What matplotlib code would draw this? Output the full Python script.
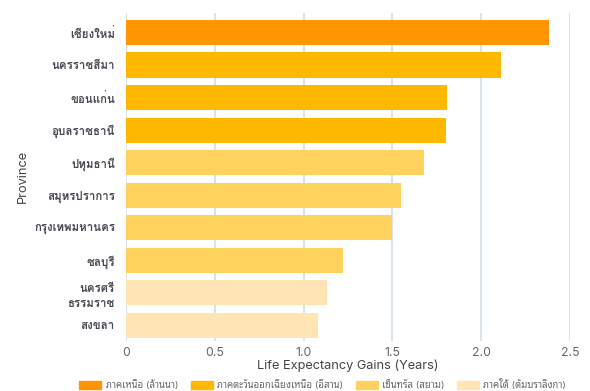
import matplotlib
matplotlib.use("Agg")
import matplotlib.pyplot as plt
from matplotlib.patches import Patch
from matplotlib import font_manager

# ข้อมูลจังหวัด (อ่านค่าจากภาพ)
provinces = ["เชียงใหม่", "นครราชสีมา", "ขอนแก่น", "อุบลราชธานี", "ปทุมธานี",
             "สมุทรปราการ", "กรุงเทพมหานคร", "ชลบุรี", "นครศรี\nธรรมราช", "สงขลา"]
gains = [2.38, 2.11, 1.81, 1.80, 1.68, 1.55, 1.50, 1.22, 1.13, 1.08]
regions = [0, 1, 1, 1, 2, 2, 2, 2, 3, 3]
region_names = ["ภาคเหนือ (ล้านนา)", "ภาคตะวันออกเฉียงเหนือ (อีสาน)",
                "เซ็นทรัล (สยาม)", "ภาคใต้ (ตัมบราลิงกา)"]
region_colors = ["#ff9500", "#ffb800", "#ffd25e", "#ffe5b4"]
xticks = [0, 0.5, 1.0, 1.5, 2.0, 2.5]
xtick_labels = ["0", "0.5", "1.0", "1.5", "2.0", "2.5"]

# ฟอนต์ไทยแบบมีหัวที่มีตัวหนา
thai_bold = "Noto Sans Thai Looped"
for cand in ["Noto Sans Thai Looped", "Loma", "Noto Sans Thai"]:
    path = font_manager.findfont(font_manager.FontProperties(family=cand, weight="bold"),
                                 fallback_to_default=False)
    if "bold" in path.lower():
        thai_bold = cand
        break

fonts = ["Inter", "Noto Sans Thai Looped", "DejaVu Sans"]
plt.rcParams["font.family"] = fonts

fig = plt.figure(figsize=(5.9, 3.91), dpi=100)
ax = fig.add_axes([0.2136, 0.128, 0.7525, 0.839])

ypos = list(range(len(provinces)))
ax.barh(ypos, gains, height=0.77, color=[region_colors[r] for r in regions], zorder=2)

ax.set_xlim(0, 2.5)
ax.set_ylim(9.476, -0.599)
ax.set_xticks(xticks)
ax.set_xticklabels(xtick_labels, color="#666666", fontsize=8.8)
ax.set_yticks(ypos)
ax.set_yticklabels(provinces, color="#4a4a55", fontsize=8.3, fontweight="bold",
                   family=[thai_bold, "DejaVu Sans"], linespacing=1.6)
ax.tick_params(length=0, pad=8)
ax.tick_params(axis="x", pad=4)
ax.grid(axis="x", color="#d6e1ea", linewidth=1.3, zorder=0)
for s in ax.spines.values():
    s.set_visible(False)

ax.set_xlabel("Life Expectancy Gains (Years)", color="#444444", fontsize=9.2, labelpad=1)
ax.set_ylabel("Province", color="#444444", fontsize=9.2)
ax.yaxis.set_label_coords(-0.218, 0.5)

handles = [Patch(color=c, label=n) for c, n in zip(region_colors, region_names)]
fig.legend(handles=handles, loc="lower center", bbox_to_anchor=(0.547, -0.02), ncol=4,
           frameon=False, fontsize=6.9, labelcolor="#666666", handlelength=2.3,
           handleheight=0.95, columnspacing=1.3, handletextpad=0.45)

fig.savefig("out.png")
